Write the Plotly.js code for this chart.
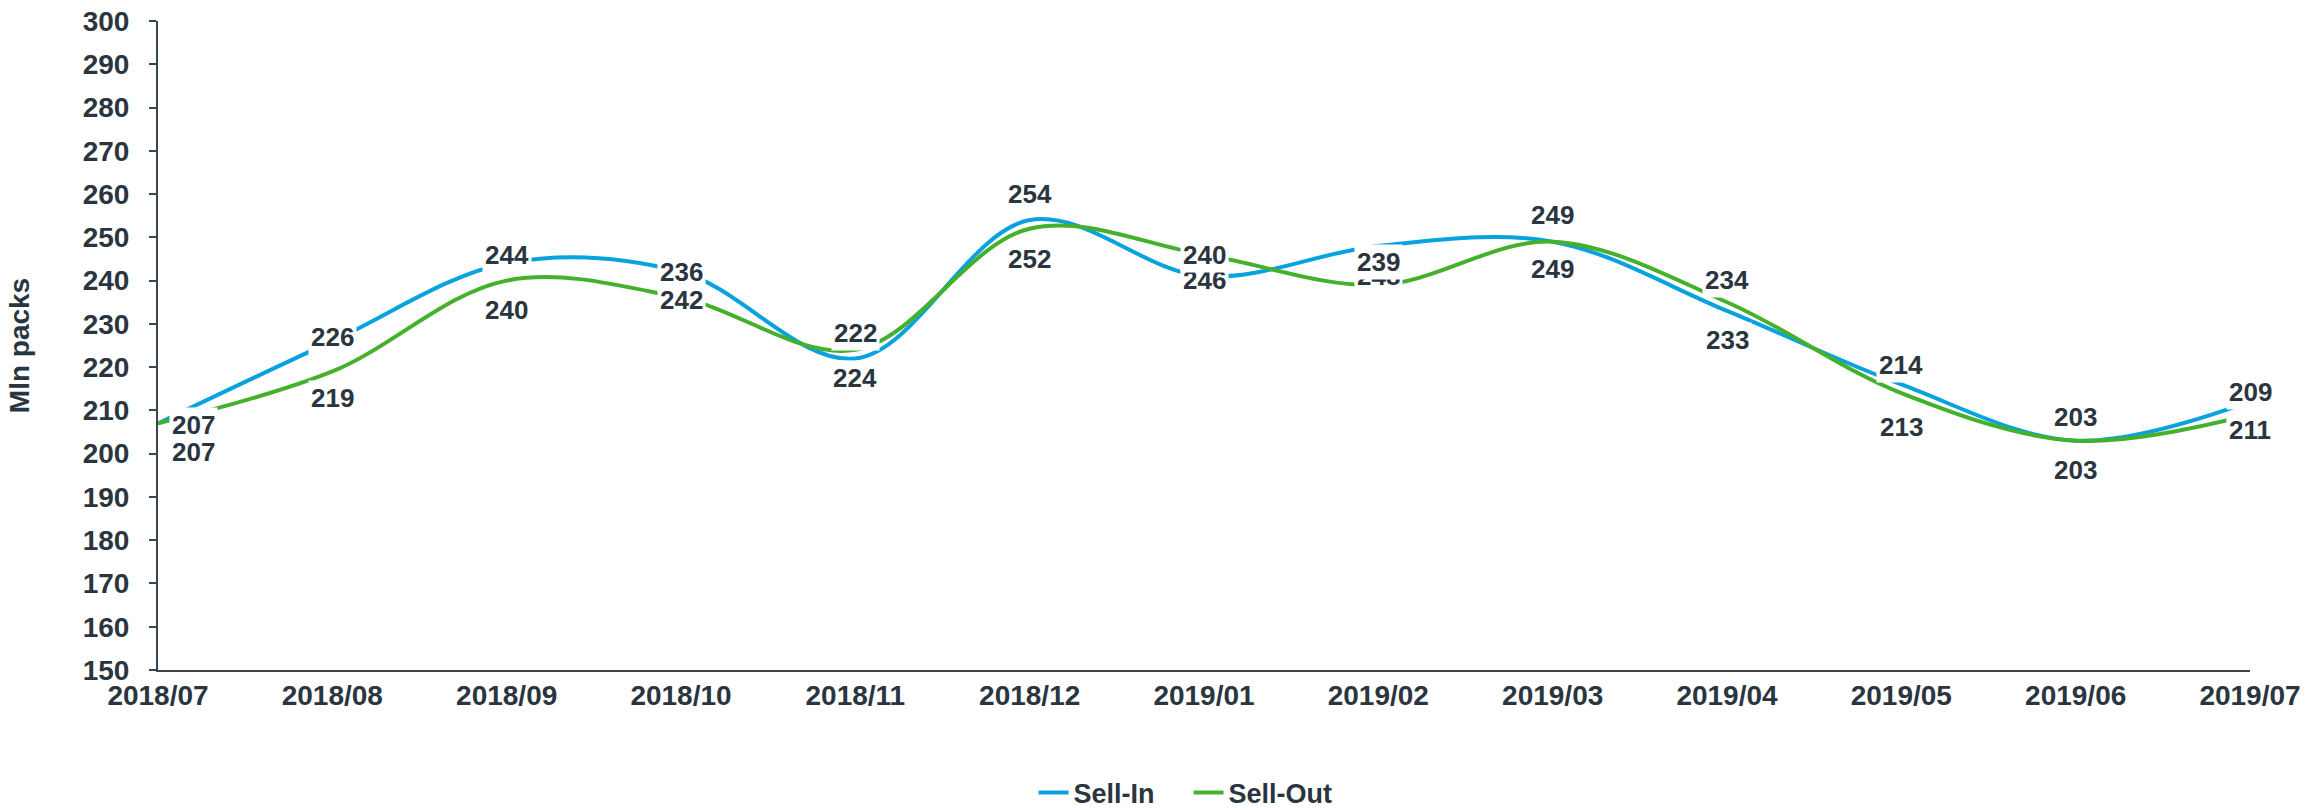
<!DOCTYPE html>
<html>
<head>
<meta charset="utf-8">
<script src="https://cdn.plot.ly/plotly-3.0.1.min.js"></script>
<style>
  html, body { margin: 0; padding: 0; background: #ffffff; }
  #chart { width: 2320px; height: 810px; }
</style>
</head>
<body>
<div id="chart"></div>
<script>
// ---- data ----
const months = ['2018/07','2018/08','2018/09','2018/10','2018/11','2018/12',
                '2019/01','2019/02','2019/03','2019/04','2019/05','2019/06','2019/07'];
const sellIn  = [207, 226, 244, 242, 222, 254, 241, 248, 249, 233, 216, 203, 212];
const sellOut = [207, 219, 240, 236, 224, 252, 246, 239, 249, 235, 214, 203, 209];
// data-label texts as printed in the reference (upper row / lower row)
const topLabels    = [207, 226, 244, 236, 222, 254, 240, 239, 249, 234, 214, 203, 209];
const bottomLabels = [207, 219, 240, 242, 224, 252, 246, 248, 249, 233, 213, 203, 211];

// ---- styling ----
const FONT = 'Liberation Sans, Arial, Helvetica, sans-serif';
const TEXT = '#2a3540';
const AXIS = '#3a4651';
const BLUE = '#08a3de';
const GREEN = '#45b02c';
// pixel offsets of the labels from their anchor line (style only)
const topShift    = [-2, 4, 8, 0, 25, 26, 21, -16, 27, 31, 19, 24, 10];
const bottomShift = [-29, -27, -29, -2, -28, -30, -25, 9, -27, -38, -34, -29, -15];

const traces = [
  { x: months, y: sellIn, name: 'Sell-In', type: 'scatter', mode: 'lines',
    line: { color: BLUE, width: 4, shape: 'spline', smoothing: 1 }, hoverinfo: 'skip' },
  { x: months, y: sellOut, name: 'Sell-Out', type: 'scatter', mode: 'lines',
    line: { color: GREEN, width: 4, shape: 'spline', smoothing: 1 }, hoverinfo: 'skip' }
];

function makeLabel(i, text, anchorY, shift) {
  return {
    x: months[i], y: anchorY, xref: 'x', yref: 'y',
    text: String(text), showarrow: false,
    xanchor: i === 0 ? 'left' : 'center', xshift: i === 0 ? 11 : 0,
    yanchor: 'middle', yshift: shift,
    bgcolor: '#ffffff', borderpad: 2,
    font: { family: FONT, size: 26, color: TEXT, weight: 'bold' }
  };
}
const annotations = [];
months.forEach((m, i) => annotations.push(makeLabel(i, bottomLabels[i], sellOut[i], bottomShift[i])));
months.forEach((m, i) => annotations.push(makeLabel(i, topLabels[i], sellIn[i], topShift[i])));

const layout = {
  width: 2320, height: 810,
  margin: { l: 158, r: 70, t: 21, b: 140 },
  paper_bgcolor: '#ffffff', plot_bgcolor: '#ffffff',
  font: { family: FONT, color: TEXT },
  showlegend: true,
  legend: {
    orientation: 'h', xref: 'container', yref: 'container',
    x: 0.4455, xanchor: 'left', y: 0.021, yanchor: 'middle',
    font: { family: FONT, size: 27, color: TEXT, weight: 'bold' },
    itemwidth: 30, entrywidth: 110
  },
  xaxis: {
    type: 'category', range: [0, 12],
    showline: true, linecolor: AXIS, linewidth: 2,
    showgrid: false, zeroline: false, ticks: '',
    ticklabelstandoff: -1,
    tickfont: { family: FONT, size: 28, color: TEXT, weight: 'bold' }
  },
  yaxis: {
    range: [150, 300], dtick: 10, tick0: 150,
    showline: true, linecolor: AXIS, linewidth: 2,
    ticks: 'outside', ticklen: 7, tickwidth: 2, tickcolor: AXIS,
    showgrid: false, zeroline: false,
    ticklabelstandoff: 14,
    tickfont: { family: FONT, size: 28, color: TEXT, weight: 'bold' },
    title: { text: 'Mln packs', standoff: 45,
             font: { family: FONT, size: 28, color: TEXT, weight: 'bold' } }
  },
  annotations: annotations,
  hovermode: false
};

Plotly.newPlot('chart', traces, layout, { displayModeBar: false, staticPlot: true });
</script>
</body>
</html>
